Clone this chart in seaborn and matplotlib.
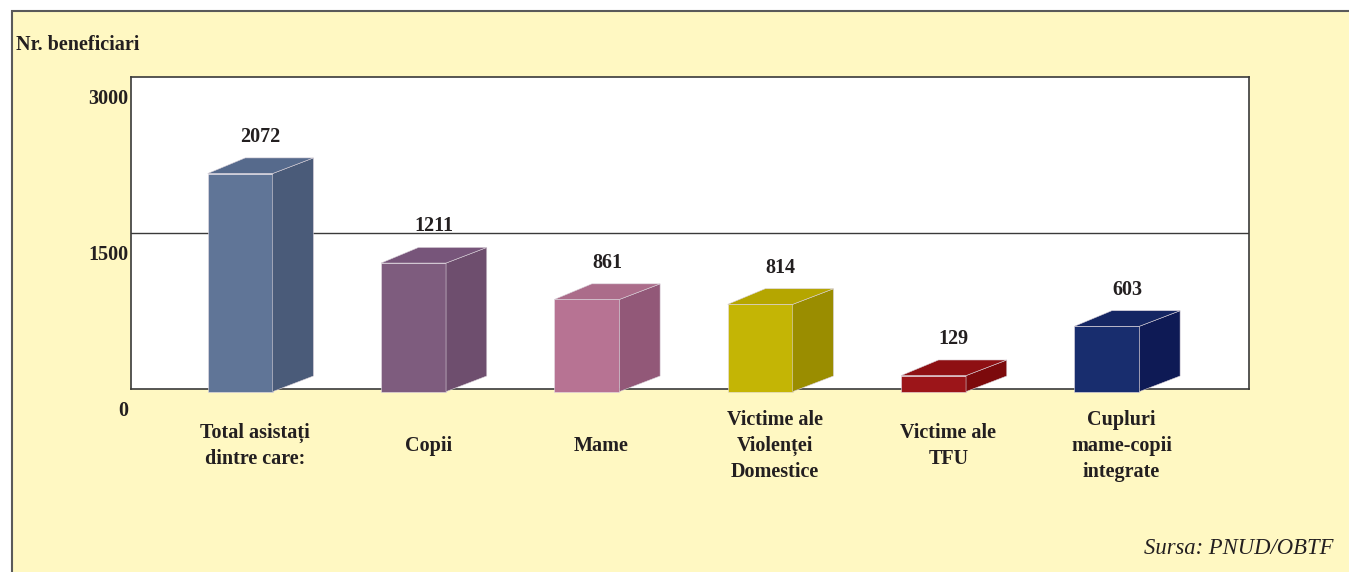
import matplotlib
matplotlib.use("Agg")
import matplotlib.pyplot as plt
import matplotlib.patches as mpatches
from matplotlib.transforms import ScaledTranslation, blended_transform_factory
import seaborn as sns
import numpy as np
import pandas as pd

# ---------------- data ----------------
categories = ["Total asistați\ndintre care:", "Copii", "Mame",
              "Victime ale\nViolenței\nDomestice", "Victime ale\nTFU",
              "Cupluri\nmame-copii\nintegrate"]
values = [2072, 1211, 861, 814, 129, 603]
yticks = [0, 1500, 3000]
ylabel = "Nr. beneficiari"
source = "Sursa: PNUD/OBTF"

front_colors = ["#607597", "#7E5C7E", "#B77393", "#C4B505", "#9C1519", "#182D6E"]
side_colors = ["#4A5B79", "#6E4E6E", "#925878", "#9A8D00", "#7C0A0C", "#0E1A55"]
top_colors = ["#566A8C", "#77557A", "#AB6C8A", "#B5A600", "#8E1013", "#152663"]

# ---------------- figure ----------------
sns.set_theme(style="white")
plt.rcParams["font.family"] = ["Liberation Serif", "DejaVu Serif"]
W, H, DPI = 1349, 572, 100
fig = plt.figure(figsize=(W / DPI, H / DPI), dpi=DPI, facecolor="white")

# yellow background panel with frame (left/top visible)
fx0, fy1 = 12 / W, 1 - 11 / H
fig.patches.append(mpatches.Rectangle((fx0, -0.05), 1.1, fy1 + 0.05,
                                      transform=fig.transFigure, facecolor="#FFF8C2",
                                      edgecolor="#5A5A5A", linewidth=1.5, zorder=-5))

ax = fig.add_axes([131 / W, (H - 389) / H, 1118 / W, 312 / H])
ax.set_zorder(2)
ax.set_facecolor("white")

df = pd.DataFrame({"cat": categories, "val": values})
bar_w = 0.375
sns.barplot(data=df, x="cat", y="val", hue="cat", palette=front_colors,
            width=bar_w, legend=False, ax=ax, saturation=1,
            edgecolor="#E8E0E8", linewidth=0.4)

ax.set_xlim(-0.63, 5.82)
ax.set_ylim(0, 3000)

dx = 0.235      # depth in x (data units)
dy = 150        # depth in y (data units)
below = 25      # bars slightly below baseline

for i, p in enumerate(ax.patches):
    x0 = p.get_x()
    w = p.get_width()
    v = p.get_height()
    x1 = x0 + w
    p.set_y(-below)
    p.set_height(v + below)
    p.set_clip_on(False)
    p.set_zorder(3)
    side = mpatches.Polygon([(x1, -below), (x1 + dx, -below + dy),
                             (x1 + dx, v + dy), (x1, v)],
                            closed=True, facecolor=side_colors[i],
                            edgecolor="#D8D0D8", linewidth=0.4, zorder=3, clip_on=False)
    top = mpatches.Polygon([(x0, v), (x0 + dx * 0.92, v + dy),
                            (x1 + dx, v + dy), (x1, v)],
                           closed=True, facecolor=top_colors[i],
                           edgecolor="#D8D0D8", linewidth=0.4, zorder=3, clip_on=False)
    ax.add_patch(side)
    ax.add_patch(top)
    ax.annotate(f"{values[i]}", xy=(x0 + w / 2 + dx / 2, v + dy),
                xytext=(0, 8), textcoords="offset points",
                ha="center", va="bottom", fontsize=14.5, fontweight="bold",
                color="#231F20", zorder=5, annotation_clip=False)

# gridline
ax.axhline(1500, color="#3A3A3A", linewidth=1.0, zorder=1)

# spines
for s in ax.spines.values():
    s.set_color("#3A3A3A")
    s.set_linewidth(1.2)
    s.set_zorder(2.5)

# y ticks
ax.set_yticks(yticks)
ax.set_yticklabels([str(t) for t in yticks], fontsize=14.5, fontweight="bold", color="#231F20")
ax.tick_params(axis="y", direction="out", length=7.2, width=1.0, color="#3A3A3A", pad=-5.5)
off = ScaledTranslation(0, -20 / DPI, fig.dpi_scale_trans)
for lab in ax.get_yticklabels():
    lab.set_transform(lab.get_transform() + off)

# x labels
ax.set_xticks([])
ax.set_xlabel("")
ax.set_ylabel("")
trans = blended_transform_factory(ax.transData, fig.transFigure)
for i, c in enumerate(categories):
    ax.text(i + 0.085, 1 - 446 / H, c, transform=trans, ha="center", va="center",
            fontsize=14.5, fontweight="bold", color="#231F20", linespacing=1.37,
            clip_on=False)

fig.text(16 / W, 1 - 45 / H, ylabel, ha="left", va="center", fontsize=14.5,
         fontweight="bold", color="#231F20")
fig.text(1334 / W, 1 - 549 / H, source, ha="right", va="center", fontsize=16.3,
         style="italic", color="#231F20")

fig.savefig("out.png", dpi=DPI, facecolor=fig.get_facecolor())
